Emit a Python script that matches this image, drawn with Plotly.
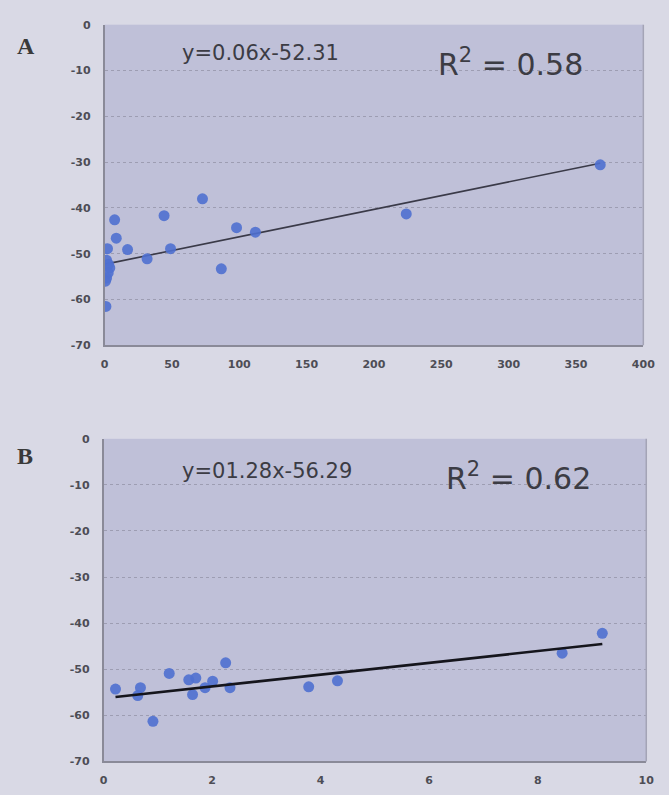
import plotly.graph_objects as go

# Panel A: scatter of response vs. dose-like variable
a_x = [368, 224, 72.7, 98, 112, 7.5, 44.2, 8.7, 2.2, 17.1, 49, 31.6, 1.5, 3.0,
       3.9, 2.7, 1.5, 0.7, 86.7, 1.0]
a_y = [-30.6, -41.3, -38.0, -44.3, -45.3, -42.6, -41.7, -46.6, -48.9, -49.1,
       -48.9, -51.1, -51.4, -52.3, -53.1, -54.2, -55.3, -56.0, -53.3, -61.5]
a_slope, a_icept = 0.06, -52.31
a_eq = "y=0.06x-52.31"
a_r2 = "0.58"

# Panel B
b_x = [0.22, 0.68, 0.63, 0.91, 1.21, 1.57, 1.70, 1.64, 1.87, 2.01, 2.25, 2.33,
       3.78, 4.31, 8.45, 9.19]
b_y = [-54.3, -54.0, -55.7, -61.3, -50.9, -52.3, -51.9, -55.5, -54.0, -52.6,
       -48.6, -54.0, -53.8, -52.5, -46.5, -42.2]
b_slope, b_icept = 1.28, -56.29
b_eq = "y=01.28x-56.29"
b_r2 = "0.62"

y_ticks = [0, -10, -20, -30, -40, -50, -60, -70]
a_xticks = [0, 50, 100, 150, 200, 250, 300, 350, 400]
b_xticks = [0, 2, 4, 6, 8, 10]

W, H = 669, 795
PAGE_BG = "#d9d9e5"
PLOT_BG = "#bfc0d8"
DOT = "#4f70d0"

fig = go.Figure()


def fit_line(xs, slope, icept):
    x0, x1 = min(xs), max(xs)
    return [x0, x1], [slope * x0 + icept, slope * x1 + icept]


lx, ly = fit_line(a_x, a_slope, a_icept)
fig.add_trace(go.Scatter(x=lx, y=ly, mode="lines", xaxis="x", yaxis="y",
                         line=dict(color="#3a3a48", width=1.6), hoverinfo="skip"))
fig.add_trace(go.Scatter(x=a_x, y=a_y, mode="markers", xaxis="x", yaxis="y",
                         marker=dict(color=DOT, size=11, opacity=0.9)))

lx, ly = fit_line(b_x, b_slope, b_icept)
fig.add_trace(go.Scatter(x=b_x, y=b_y, mode="markers", xaxis="x2", yaxis="y2",
                         marker=dict(color=DOT, size=11, opacity=0.9)))
fig.add_trace(go.Scatter(x=lx, y=ly, mode="lines", xaxis="x2", yaxis="y2",
                         line=dict(color="#15151c", width=2.6), hoverinfo="skip"))

tickfont = dict(family="DejaVu Sans", size=11, color="#4d4d55", weight="bold")


def yaxis(domain, anchor):
    return dict(domain=domain, anchor=anchor, range=[-70, 0], tickvals=y_ticks,
                ticktext=[str(v) for v in y_ticks], showgrid=True,
                gridcolor="#9d9db2", griddash="dot", gridwidth=1,
                showline=True, linecolor="#8a8a98", linewidth=1.5,
                zeroline=False, tickfont=tickfont, ticks="", ticklabelstandoff=10,
                fixedrange=True)


def xaxis(domain, anchor, rng, ticks):
    return dict(domain=domain, anchor=anchor, range=rng, tickvals=ticks,
                showgrid=False, showline=True, linecolor="#8a8a98", linewidth=1.5,
                mirror=False, zeroline=False, tickfont=tickfont, ticks="",
                ticklabelstandoff=8, fixedrange=True)


fig.update_layout(
    width=W, height=H, margin=dict(l=0, r=0, t=0, b=0),
    paper_bgcolor=PAGE_BG, plot_bgcolor=PLOT_BG, showlegend=False,
    xaxis=xaxis([103 / W, 655 / W], "y", [0, 400], a_xticks),
    yaxis=yaxis([1 - 345 / H, 1 - 19 / H], "x"),
    xaxis2=xaxis([102 / W, 658 / W], "y2", [0, 10], b_xticks),
    yaxis2=yaxis([1 - 768 / H, 1 - 440 / H], "x2"),
)

# right-hand border of each plot area
for x0, x1, y0, y1 in [(103, 655, 19, 345), (102, 658, 440, 768)]:
    fig.add_shape(type="line", xref="paper", yref="paper",
                  x0=x1 / W, x1=x1 / W, y0=1 - y1 / H, y1=1 - y0 / H,
                  line=dict(color="#a4a4b6", width=1.5))

eq_font = dict(family="DejaVu Sans", size=21, color="#3c3c44")
r2_font = dict(family="DejaVu Sans", size=30, color="#3c3c44")
panel_font = dict(family="Liberation Serif", size=24, color="#3a3a3a")

annots = [
    (180, 48, a_eq, eq_font, "left"),
    (443, 57, "R<sup>2</sup> = " + a_r2, r2_font, "left"),
    (180, 473, b_eq, eq_font, "left"),
    (451, 478, "R<sup>2</sup> = " + b_r2, r2_font, "left"),
    (23, 41, "<b>A</b>", panel_font, "center"),
    (22, 457, "<b>B</b>", panel_font, "center"),
]
for px, py, txt, font, anchor in annots:
    fig.add_annotation(x=px / W, y=1 - py / H, xref="paper", yref="paper",
                       text=txt, font=font, showarrow=False,
                       xanchor=anchor, yanchor="middle")

fig.write_html("out.html")
